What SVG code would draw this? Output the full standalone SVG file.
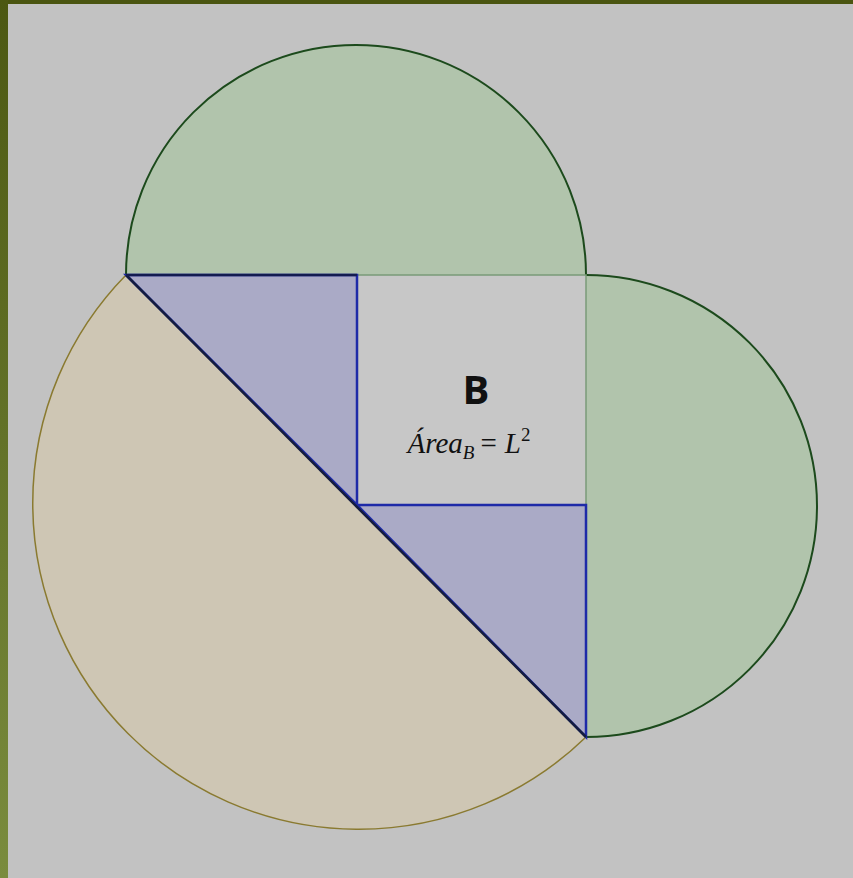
<svg xmlns="http://www.w3.org/2000/svg" width="853" height="878" viewBox="0 0 853 878">
<defs>
<linearGradient id="lb" x1="0" y1="0" x2="0" y2="1">
<stop offset="0" stop-color="#4c5812"/>
<stop offset="1" stop-color="#7a8c3e"/>
</linearGradient>
<style>
.green{fill:#b1c4ac;stroke:#1c4a1c;stroke-width:2}
.tan{fill:#cec6b4;stroke:#8a7a30;stroke-width:1.5}
.blue{fill:#aaaac6;stroke:#1e2aa8;stroke-width:2.5}
.sq{fill:#c7c7c7;stroke:#7a9a78;stroke-width:1.5}
.diag{stroke:#141c40;stroke-width:2.5;fill:none}
.t1{font-family:"Open Sans","Noto Sans",sans-serif;font-weight:bold;font-size:40px;fill:#111}
.t2{font-family:"Liberation Serif","DejaVu Serif",serif;font-style:italic;font-size:29px;fill:#111}
</style>
</defs>
<rect width="853" height="878" fill="#c2c2c2"/>
<rect x="0" y="0" width="853" height="4" fill="#4a5510"/>
<rect x="0" y="0" width="8" height="878" fill="url(#lb)"/>
<g id="tan-semicircle"><path class="tan" d="M126,275 A326,326 0 0 0 586,737 Z"/></g>
<g id="top-semicircle"><path class="green" d="M126,275 A230,230 0 0 1 586,275"/></g>
<g id="right-semicircle"><path class="green" d="M586,275 A231,231 0 0 1 586,737"/></g>
<g id="square-B"><rect class="sq" x="357" y="275" width="229" height="230"/>
<text class="t1" x="476" y="404" text-anchor="middle">B</text>
<text class="t2" x="469" y="453" text-anchor="middle">Área<tspan font-size="19" dy="6">B</tspan><tspan dy="-6" dx="6" font-style="normal">=</tspan><tspan dx="8">L</tspan><tspan font-size="19" dy="-12" font-style="normal">2</tspan></text>
</g>
<g id="triangle-upper"><path class="blue" d="M126,275 L357,275 L357,505 Z"/></g>
<g id="triangle-lower"><path class="blue" d="M357,505 L586,505 L586,737 Z"/></g>
<g id="connectors"><path class="diag" d="M126,275 L586,737"/>
<path d="M126,275 L357,275" stroke="#141c50" stroke-width="2.5"/></g>
</svg>
